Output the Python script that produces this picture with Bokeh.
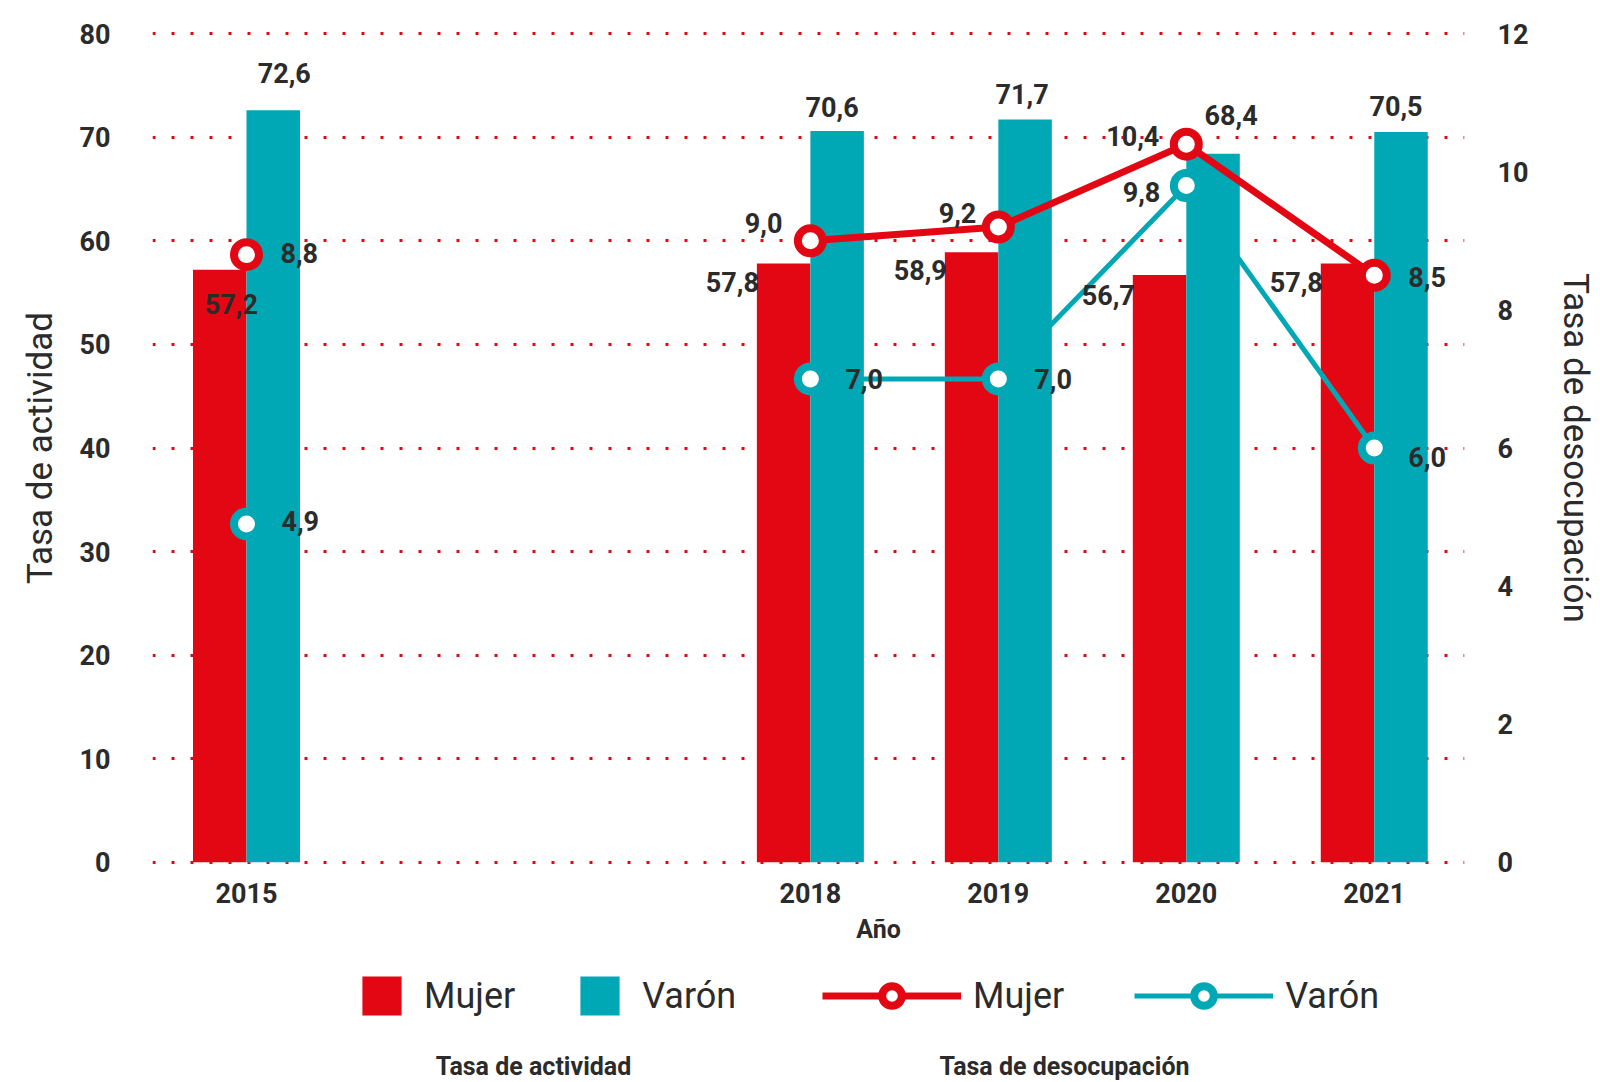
import math
from bokeh.plotting import figure
from bokeh.layouts import column
from bokeh.models import (ColumnDataSource, Range1d, LinearAxis, FixedTicker,
                          Legend, LegendItem, Label)
from bokeh.transform import dodge
from bokeh.core.properties import value
from bokeh.embed import file_html
from bokeh.resources import INLINE

# ---------------- data ----------------
years = [2015, 2018, 2019, 2020, 2021]
act_mujer = [57.2, 57.8, 58.9, 56.7, 57.8]   # Tasa de actividad, Mujer
act_varon = [72.6, 70.6, 71.7, 68.4, 70.5]   # Tasa de actividad, Varón
des_mujer = [8.8, 9.0, 9.2, 10.4, 8.5]       # Tasa de desocupación, Mujer
des_varon = [4.9, 7.0, 7.0, 9.8, 6.0]        # Tasa de desocupación, Varón
left_ticks = [0, 10, 20, 30, 40, 50, 60, 70, 80]
right_ticks = [0, 2, 4, 6, 8, 10, 12]
series_names = ["Mujer", "Varón"]
axis_titles = ["Tasa de actividad", "Tasa de desocupación", "Año"]

# ---------------- label placement (screen px, dx right / dy up) ----------------
bar_v_dx = [11, -5, -3, 18, -5]
bar_v_dy = [37, 24, 26, 39, 26]
bar_m_dx = [65, 2, 2, 2, 2]
bar_m_dy = [-34, -18, -18, -20, -18]
line_m_align = ["left", "right", "right", "right", "left"]
line_m_dx = [34, -28, -22, -27, 34]
line_m_dy = [2, 18, 14, 8, -2]
line_v_align = ["left", "left", "left", "right", "left"]
line_v_dx = [35, 35, 36, -26, 34]
line_v_dy = [3, 0, 0, -6, -9]

RED = "#e30613"
TEAL = "#00a8b5"
INK = "#2b2b2b"
FONT = "Roboto"
BW = 0.2846  # bar width in years
W = 1600
FL = 152     # frame left (px)


def fmt(v):
    return f"{v:.1f}".replace(".", ",")


src = ColumnDataSource(dict(
    year=years, am=act_mujer, av=act_varon, dm=des_mujer, dv=des_varon,
    am_t=[fmt(v) for v in act_mujer], av_t=[fmt(v) for v in act_varon],
    dm_t=[fmt(v) for v in des_mujer], dv_t=[fmt(v) for v in des_varon],
    bv_dx=bar_v_dx, bv_dy=[-d for d in bar_v_dy],
    bm_dx=bar_m_dx, bm_dy=[-d for d in bar_m_dy],
    lm_al=line_m_align, lm_dx=line_m_dx, lm_dy=[-d for d in line_m_dy],
    lv_al=line_v_align, lv_dx=line_v_dx, lv_dy=[-d for d in line_v_dy],
))

# lines break where years are missing
all_years = list(range(min(years), max(years) + 1))
lm = dict(zip(years, des_mujer))
lv = dict(zip(years, des_varon))
line_src = ColumnDataSource(dict(
    year=all_years,
    dm=[lm.get(y, math.nan) for y in all_years],
    dv=[lv.get(y, math.nan) for y in all_years],
))

p = figure(width=W, height=910,
           x_range=Range1d(2014.5, 2021.48), y_range=Range1d(-0.4, 80.4),
           output_backend="svg", toolbar_location=None,
           min_border_left=FL, min_border_right=136,
           min_border_top=29, min_border_bottom=44)
p.extra_y_ranges = {"des": Range1d(-0.06, 12.06)}
p.outline_line_color = None
p.background_fill_color = "white"
p.border_fill_color = "white"

# grid
p.xgrid.grid_line_color = None
p.ygrid.ticker = FixedTicker(ticks=left_ticks)
p.ygrid.grid_line_color = RED
p.ygrid.grid_line_width = 3
p.ygrid.grid_line_dash = "3 16"

# axes
def style_axis(ax):
    ax.axis_line_color = None
    ax.major_tick_line_color = None
    ax.minor_tick_line_color = None
    ax.major_label_text_font = FONT
    ax.major_label_text_font_style = "bold"
    ax.major_label_text_font_size = "27px"
    ax.major_label_text_color = INK
    ax.axis_label_text_font = FONT
    ax.axis_label_text_font_style = "normal"
    ax.axis_label_text_font_size = "35px"
    ax.axis_label_text_color = INK

ya = p.yaxis[0]
style_axis(ya)
ya.ticker = FixedTicker(ticks=left_ticks)
ya.major_label_standoff = 36
ya.axis_label = axis_titles[0]
ya.axis_label_standoff = 16

xa = p.xaxis[0]
style_axis(xa)
xa.ticker = FixedTicker(ticks=years)
xa.major_label_standoff = 10

ra = LinearAxis(y_range_name="des", ticker=FixedTicker(ticks=right_ticks),
                axis_label=axis_titles[1])
style_axis(ra)
ra.major_label_standoff = 27
ra.axis_label_standoff = 24
p.add_layout(ra, "right")

# glyphs (order matters for overlap)
BAR = dict(source=src, bottom=0, width=BW, line_color=None)
bars_m = p.vbar(x=dodge("year", -BW / 2, range=p.x_range), top="am",
                fill_color=RED, **BAR)
p.line("year", "dv", source=line_src, y_range_name="des",
       line_color=TEAL, line_width=5)
bars_v = p.vbar(x=dodge("year", BW / 2, range=p.x_range), top="av",
                fill_color=TEAL, **BAR)
p.line("year", "dm", source=line_src, y_range_name="des",
       line_color=RED, line_width=7)
p.scatter("year", "dv", source=src, y_range_name="des", size=25,
          fill_color="white", line_color=TEAL, line_width=8)
p.scatter("year", "dm", source=src, y_range_name="des", size=25,
          fill_color="white", line_color=RED, line_width=8)

# value labels
common = dict(source=src, text_font=value(FONT), text_font_size="27px",
              text_font_style="bold", text_color=INK, text_baseline="middle")
p.text(x=dodge("year", BW / 2, range=p.x_range), y="av", text="av_t",
       x_offset="bv_dx", y_offset="bv_dy", text_align="center", **common)
p.text(x=dodge("year", -BW, range=p.x_range), y="am", text="am_t",
       x_offset="bm_dx", y_offset="bm_dy", text_align="right", **common)
p.text(x="year", y="dm", text="dm_t", y_range_name="des",
       x_offset="lm_dx", y_offset="lm_dy", text_align="lm_al", **common)
p.text(x="year", y="dv", text="dv_t", y_range_name="des",
       x_offset="lv_dx", y_offset="lv_dy", text_align="lv_al", **common)

# ---------------- legend panel (frame aligned with the chart's frame) ----------------
LH = 170
q = figure(width=W, height=LH, x_range=Range1d(2014.5, 2021.48), y_range=Range1d(0, 1),
           output_backend="svg", toolbar_location=None,
           min_border=0, x_axis_location=None, y_axis_location=None)
q.grid.visible = False
q.outline_line_color = None
q.background_fill_color = "white"
q.border_fill_color = "white"

# hidden key renderers (same data and styles) used only for the legend keys
KEY = dict(source=src, visible=False)
k_bm = q.vbar(x="year", top="am", width=BW, fill_color=RED, line_color=None, **KEY)
k_bv = q.vbar(x="year", top="av", width=BW, fill_color=TEAL, line_color=None, **KEY)
k_lm = q.line("year", "dm", line_color=RED, line_width=7, **KEY)
k_dm = q.scatter("year", "dm", size=25, fill_color="white",
                 line_color=RED, line_width=8, **KEY)
k_lv = q.line("year", "dv", line_color=TEAL, line_width=5, **KEY)
k_dv = q.scatter("year", "dv", size=25, fill_color="white",
                 line_color=TEAL, line_width=8, **KEY)


def make_legend(items, gw, gh, standoff, spacing, loc):
    return Legend(items=items, orientation="horizontal", location=loc,
                  glyph_width=gw, glyph_height=gh, label_standoff=standoff,
                  spacing=spacing, padding=0, margin=0,
                  border_line_color=None, background_fill_alpha=0,
                  inactive_fill_alpha=0,
                  label_text_font=FONT, label_text_font_size="36px",
                  label_text_color=INK)


q.add_layout(make_legend([LegendItem(label=series_names[0], renderers=[k_bm]),
                          LegendItem(label=series_names[1], renderers=[k_bv])],
                         49, 49, 18, 60, (357 - FL, 60)))
q.add_layout(make_legend([LegendItem(label=series_names[0], renderers=[k_lm, k_dm]),
                          LegendItem(label=series_names[1], renderers=[k_lv, k_dv])],
                         139, 49, 12, 70, (822 - FL, 60)))


def add_label(txt, x, y, size, style):
    q.add_layout(Label(x=x - FL, y=y, x_units="screen", y_units="screen", text=txt,
                       text_align="center", text_baseline="middle",
                       text_font=FONT, text_font_size=size,
                       text_font_style=style, text_color=INK))


add_label(axis_titles[2], 878, LH - 19, "25px", "bold")
add_label(axis_titles[0], 533, LH - 156, "25px", "bold")
add_label(axis_titles[1], 1064, LH - 156, "25px", "bold")

layout = column(p, q, spacing=0)
open("out.html", "w").write(file_html(layout, INLINE))
